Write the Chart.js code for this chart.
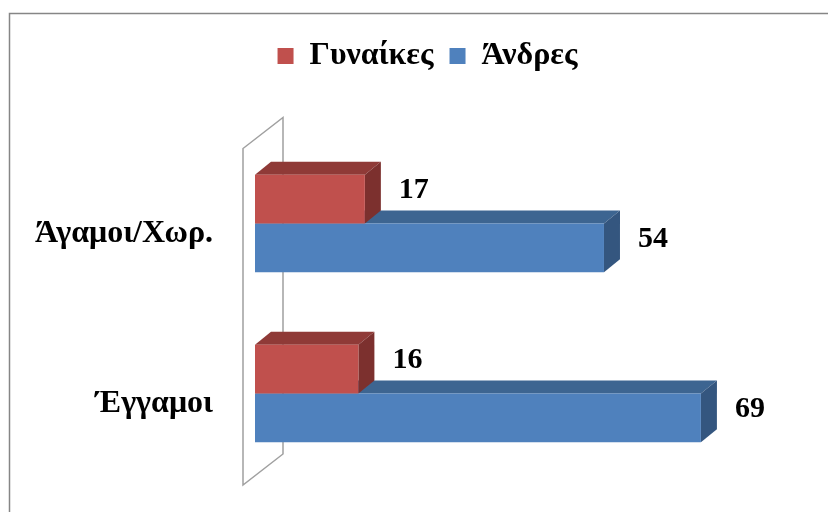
<!DOCTYPE html>
<html><head><meta charset="utf-8">
<script src="https://cdn.jsdelivr.net/npm/chart.js@4/dist/chart.umd.min.js"></script>
<style>html,body{margin:0;padding:0;background:#fff}#wrap{width:828px;height:512px}</style>
</head><body><div id="wrap"><canvas id="c" width="828" height="512"></canvas></div>
<script>
const categories = ['Άγαμοι/Χωρ.', 'Έγγαμοι'];
const seriesNames = ['Γυναίκες', 'Άνδρες'];
const women = [17, 16];
const men = [54, 69];
const xMax = 80;

const FONT = '"Liberation Serif", "Times New Roman", serif';
const frontColors = ['#C0504D', '#4F81BD'];
const topColors = ['#8F3A37', '#3D6591'];
const sideColors = ['#7C302E', '#34567F'];
const DX = 16, DY = -13;

const framePlugin = {
  id: 'frame',
  afterLayout(chart) {
    if (chart.legend) { chart.legend.left += 41.5; chart.legend.right += 41.5; }
  },
  beforeDraw(chart) {
    const ctx = chart.ctx;
    ctx.save();
    ctx.fillStyle = '#fff';
    ctx.fillRect(0, 0, chart.width, chart.height);
    ctx.strokeStyle = '#868686';
    ctx.lineWidth = 1.5;
    ctx.strokeRect(9.5, 13.5, 840, 520);
    ctx.restore();
  }
};

const bar3dPlugin = {
  id: 'bar3d',
  beforeDatasetsDraw(chart) {
    const ctx = chart.ctx;
    const ca = chart.chartArea;
    ctx.save();
    ctx.strokeStyle = '#A0A0A0';
    ctx.lineWidth = 1.5;
    const fx = ca.left - 12, ft = ca.top + 10, fb = ca.bottom + 6.5;
    const wdx = 40, wdy = -31;
    ctx.beginPath();
    ctx.moveTo(fx, ft); ctx.lineTo(fx, fb);
    ctx.lineTo(fx + wdx, fb + wdy); ctx.lineTo(fx + wdx, ft + wdy);
    ctx.closePath(); ctx.stroke();
    for (let d = chart.data.datasets.length - 1; d >= 0; d--) {
      const meta = chart.getDatasetMeta(d);
      meta.data.forEach(el => {
        const p = el.getProps(['x', 'y', 'base', 'height'], true);
        const t = p.y - p.height / 2, b = p.y + p.height / 2;
        ctx.fillStyle = topColors[d];
        ctx.beginPath();
        ctx.moveTo(p.base, t); ctx.lineTo(p.x, t);
        ctx.lineTo(p.x + DX, t + DY); ctx.lineTo(p.base + DX, t + DY);
        ctx.closePath(); ctx.fill();
        ctx.fillStyle = sideColors[d];
        ctx.beginPath();
        ctx.moveTo(p.x, t); ctx.lineTo(p.x + DX, t + DY);
        ctx.lineTo(p.x + DX, b + DY); ctx.lineTo(p.x, b);
        ctx.closePath(); ctx.fill();
      });
    }
    ctx.restore();
  },
  afterDatasetsDraw(chart) {
    const ctx = chart.ctx;
    ctx.save();
    ctx.fillStyle = '#000';
    ctx.font = 'bold 30px ' + FONT;
    ctx.textAlign = 'center';
    ctx.textBaseline = 'middle';
    chart.data.datasets.forEach((ds, d) => {
      const meta = chart.getDatasetMeta(d);
      meta.data.forEach((el, i) => {
        const p = el.getProps(['x', 'y'], true);
        ctx.fillText(String(ds.data[i]), p.x + 49, p.y - 9);
      });
    });
    ctx.restore();
  }
};

new Chart(document.getElementById('c'), {
  type: 'bar',
  data: {
    labels: categories,
    datasets: [
      { label: seriesNames[0], data: women, backgroundColor: frontColors[0], borderWidth: 0 },
      { label: seriesNames[1], data: men, backgroundColor: frontColors[1], borderWidth: 0 }
    ]
  },
  options: {
    indexAxis: 'y',
    responsive: false,
    animation: false,
    devicePixelRatio: 1,
    datasets: { bar: { barPercentage: 1, categoryPercentage: 0.574 } },
    layout: { padding: { left: 0, right: 56, top: 24, bottom: 33.5 } },
    plugins: {
      tooltip: { enabled: false },
      legend: {
        position: 'top',
        labels: {
          font: { family: FONT, size: 32, weight: 'bold' },
          color: '#000',
          boxWidth: 16,
          boxHeight: 16,
          padding: 16
        }
      }
    },
    scales: {
      x: {
        position: 'top',
        min: 0, max: xMax,
        grid: { display: false, drawTicks: false },
        border: { display: false },
        ticks: { display: false },
        afterFit(s) { s.height = 56.5; }
      },
      y: {
        grid: { display: false, drawTicks: true, tickLength: 42 },
        border: { display: false },
        ticks: {
          font: { family: FONT, size: 32, weight: 'bold' },
          color: '#000',
          padding: 0,
          labelOffset: 10
        },
        afterFit(s) { s.width = 255; }
      }
    }
  },
  plugins: [framePlugin, bar3dPlugin]
});
</script></body></html>
